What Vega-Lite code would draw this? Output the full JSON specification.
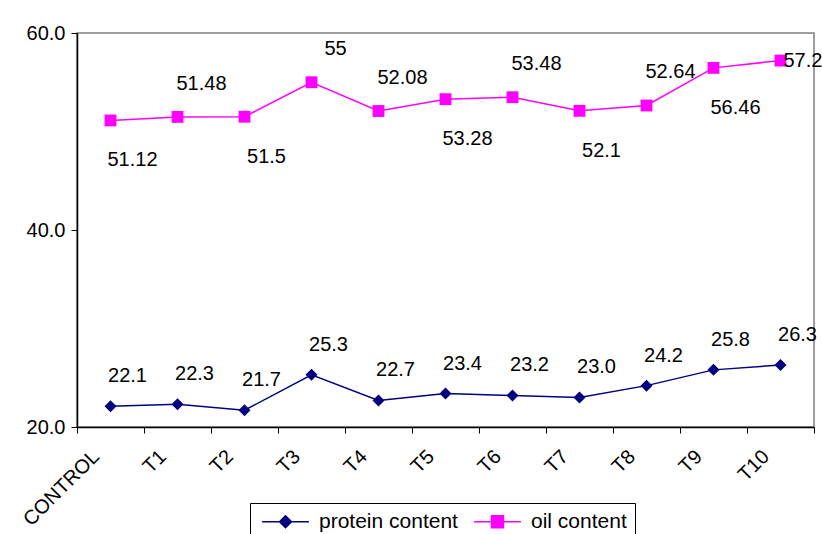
{
  "$schema": "https://vega.github.io/schema/vega-lite/v6.json",
  "width": 737,
  "height": 394,
  "autosize": {"type": "none"},
  "padding": {"left": 77, "top": 33, "right": 8, "bottom": 107},
  "background": "white",
  "config": {
    "font": "Liberation Sans",
    "view": {"stroke": "#808080", "strokeWidth": 1.5},
    "axis": {"labelFont": "Liberation Sans", "labelFontSize": 20, "labelColor": "black", "domainColor": "black", "tickColor": "black", "domainWidth": 1.5, "tickWidth": 1, "grid": false, "title": null}
  },
  "data": {
    "values": [
      {"treatment": "CONTROL", "series": "protein content", "value": 22.1, "labelSide": "above"},
      {"treatment": "T1", "series": "protein content", "value": 22.3, "labelSide": "above"},
      {"treatment": "T2", "series": "protein content", "value": 21.7, "labelSide": "above"},
      {"treatment": "T3", "series": "protein content", "value": 25.3, "labelSide": "above"},
      {"treatment": "T4", "series": "protein content", "value": 22.7, "labelSide": "above"},
      {"treatment": "T5", "series": "protein content", "value": 23.4, "labelSide": "above"},
      {"treatment": "T6", "series": "protein content", "value": 23.2, "labelSide": "above"},
      {"treatment": "T7", "series": "protein content", "value": 23.0, "labelSide": "above"},
      {"treatment": "T8", "series": "protein content", "value": 24.2, "labelSide": "above"},
      {"treatment": "T9", "series": "protein content", "value": 25.8, "labelSide": "above"},
      {"treatment": "T10", "series": "protein content", "value": 26.3, "labelSide": "above"},
      {"treatment": "CONTROL", "series": "oil content", "value": 51.12, "labelSide": "below"},
      {"treatment": "T1", "series": "oil content", "value": 51.48, "labelSide": "above"},
      {"treatment": "T2", "series": "oil content", "value": 51.5, "labelSide": "below"},
      {"treatment": "T3", "series": "oil content", "value": 55, "labelSide": "above"},
      {"treatment": "T4", "series": "oil content", "value": 52.08, "labelSide": "above"},
      {"treatment": "T5", "series": "oil content", "value": 53.28, "labelSide": "below"},
      {"treatment": "T6", "series": "oil content", "value": 53.48, "labelSide": "above"},
      {"treatment": "T7", "series": "oil content", "value": 52.1, "labelSide": "below"},
      {"treatment": "T8", "series": "oil content", "value": 52.64, "labelSide": "above"},
      {"treatment": "T9", "series": "oil content", "value": 56.46, "labelSide": "below"},
      {"treatment": "T10", "series": "oil content", "value": 57.2, "labelSide": "right"}
    ]
  },
  "encoding": {
    "x": {
      "field": "treatment", "type": "nominal",
      "sort": ["CONTROL", "T1", "T2", "T3", "T4", "T5", "T6", "T7", "T8", "T9", "T10"],
      "scale": {"type": "band", "paddingInner": 0, "paddingOuter": 0},
      "axis": {"labelAngle": -45, "labelAlign": "right", "labelBaseline": "top", "tickBand": "extent", "tickSize": 6, "labelPadding": 13, "labelOffset": -22}
    },
    "y": {
      "field": "value", "type": "quantitative",
      "scale": {"domain": [20, 60], "nice": false, "zero": false},
      "axis": {"values": [20, 40, 60], "format": ".1f", "tickSize": 6, "labelPadding": 6}
    }
  },
  "layer": [
    {
      "mark": {"type": "line", "strokeWidth": 1.5},
      "encoding": {
        "color": {
          "field": "series", "type": "nominal",
          "scale": {"domain": ["protein content", "oil content"], "range": ["#000080", "#FF00FF"]},
          "legend": {
            "title": null,
            "orient": "none",
            "legendX": 173,
            "legendY": 470,
            "direction": "horizontal",
            "columns": 2,
            "strokeColor": "black",
            "fillColor": "white",
            "padding": 8,
            "labelFont": "Liberation Sans",
            "labelFontSize": 21,
            "labelColor": "black",
            "symbolSize": 144,
            "symbolOffset": 17,
            "labelOffset": 23,
            "columnPadding": 12,
            "symbolStrokeWidth": 1.5,
            "encode": {
              "symbols": {
                "update": {
                  "shape": {"signal": "datum.value === 'protein content' ? 'M-3.9,0H3.9M0,-1L1,0L0,1L-1,0Z' : 'M-3.9,0H3.9M-1,-1H1V1H-1Z'"},
                  "fill": {"scale": "color", "field": "value"},
                  "stroke": {"scale": "color", "field": "value"},
                  "fillOpacity": {"value": 1},
                  "strokeOpacity": {"value": 1},
                  "strokeWidth": {"value": 1.5}
                }
              }
            }
          }
        }
      }
    },
    {
      "transform": [{"filter": "datum.series === 'protein content'"}],
      "mark": {"type": "point", "filled": true, "opacity": 1, "size": 144, "shape": "diamond"},
      "encoding": {"color": {"field": "series", "type": "nominal"}}
    },
    {
      "transform": [{"filter": "datum.series === 'oil content'"}],
      "mark": {"type": "point", "filled": true, "opacity": 1, "size": 140, "shape": "square"},
      "encoding": {"color": {"field": "series", "type": "nominal"}}
    },
    {
      "transform": [{"filter": "datum.series === 'protein content'"}],
      "mark": {"type": "text", "font": "Liberation Sans", "fontSize": 20, "color": "black", "dx": 17, "dy": -30, "align": "center", "baseline": "middle"},
      "encoding": {"text": {"field": "value", "type": "quantitative", "format": ".1f"}}
    },
    {
      "transform": [{"filter": "datum.series === 'oil content' && datum.labelSide === 'above'"}],
      "mark": {"type": "text", "font": "Liberation Sans", "fontSize": 20, "color": "black", "dx": 24, "dy": -33, "align": "center", "baseline": "middle"},
      "encoding": {"text": {"field": "value", "type": "quantitative", "format": "~g"}}
    },
    {
      "transform": [{"filter": "datum.series === 'oil content' && datum.labelSide === 'below'"}],
      "mark": {"type": "text", "font": "Liberation Sans", "fontSize": 20, "color": "black", "dx": 22, "dy": 40, "align": "center", "baseline": "middle"},
      "encoding": {"text": {"field": "value", "type": "quantitative", "format": "~g"}}
    },
    {
      "transform": [{"filter": "datum.series === 'oil content' && datum.labelSide === 'right'"}],
      "mark": {"type": "text", "font": "Liberation Sans", "fontSize": 20, "color": "black", "dx": 3, "dy": 0, "align": "left", "baseline": "middle"},
      "encoding": {"text": {"field": "value", "type": "quantitative", "format": "~g"}}
    }
  ]
}
